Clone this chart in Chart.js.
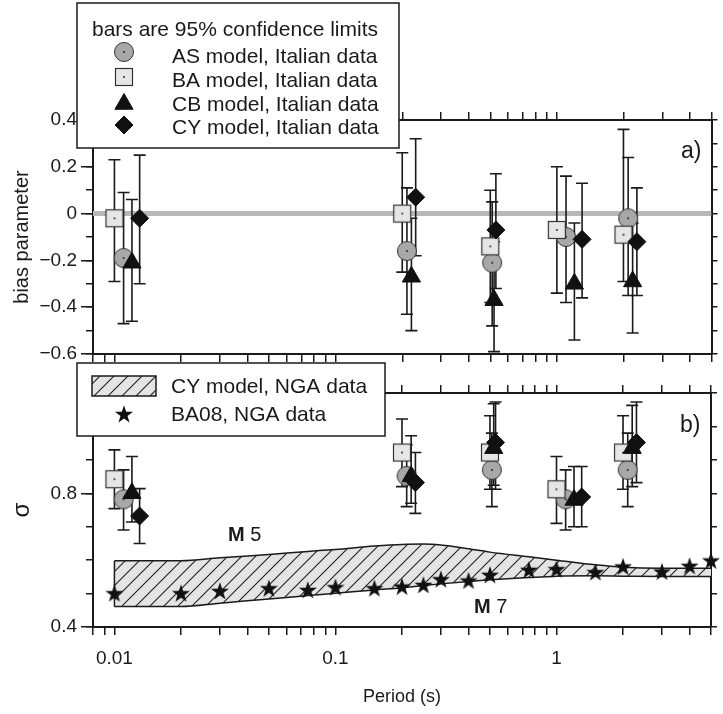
<!DOCTYPE html>
<html>
<head>
<meta charset="utf-8">
<script src="https://cdn.jsdelivr.net/npm/chart.js@4.4.1/dist/chart.umd.min.js"></script>
<style>
html, body { margin: 0; padding: 0; background: #fff; }
#wrap { position: relative; width: 723px; height: 714px; }
canvas { position: absolute; left: 0; top: 0; }
</style>
</head>
<body>
<div id="wrap">
  <canvas id="biasChart" width="723" height="714"></canvas>
  <canvas id="sigmaChart" width="723" height="714"></canvas>
</div>
<script>
const FONT = '"Liberation Sans", Arial, Helvetica, sans-serif';
const INK = '#1a1a1a';

// periods (s); each model is nudged right a little so the bars don't overlap
const periodsBA = [0.01, 0.2, 0.5, 1.0, 2.0];
const periodsAS = [0.011, 0.21, 0.51, 1.1, 2.1];
const periodsCB = [0.012, 0.22, 0.52, 1.2, 2.2];
const periodsCY = [0.013, 0.23, 0.53, 1.3, 2.3];

// panel a) bias parameter with 95% limits
const biasAS = [-0.19, -0.16, -0.21, -0.10, -0.02];
const biasASLow = [-0.47, -0.43, -0.48, -0.38, -0.35];
const biasASHigh = [0.09, 0.11, 0.05, 0.16, 0.24];
const biasBA = [-0.02, 0.00, -0.14, -0.07, -0.09];
const biasBALow = [-0.29, -0.25, -0.38, -0.34, -0.29];
const biasBAHigh = [0.23, 0.26, 0.10, 0.20, 0.36];
const biasCB = [-0.21, -0.27, -0.37, -0.30, -0.29];
const biasCBLow = [-0.46, -0.50, -0.59, -0.54, -0.51];
const biasCBHigh = [0.06, -0.02, -0.12, -0.04, -0.04];
const biasCY = [-0.02, 0.07, -0.07, -0.11, -0.12];
const biasCYLow = [-0.30, -0.18, -0.32, -0.36, -0.35];
const biasCYHigh = [0.25, 0.32, 0.17, 0.13, 0.11];

// panel b) sigma with 95% limits
const sigmaAS = [0.782, 0.852, 0.870, 0.782, 0.870];
const sigmaASLow = [0.69, 0.76, 0.76, 0.69, 0.76];
const sigmaASHigh = [0.87, 0.945, 0.98, 0.87, 0.98];
const sigmaBA = [0.842, 0.922, 0.922, 0.812, 0.922];
const sigmaBALow = [0.754, 0.82, 0.812, 0.71, 0.812];
const sigmaBAHigh = [0.93, 1.022, 1.032, 0.91, 1.032];
const sigmaCB = [0.80, 0.85, 0.935, 0.78, 0.935];
const sigmaCBLow = [0.714, 0.77, 0.824, 0.70, 0.82];
const sigmaCBHigh = [0.91, 0.972, 1.068, 0.88, 1.063];
const sigmaCY = [0.732, 0.832, 0.952, 0.789, 0.952];
const sigmaCYLow = [0.65, 0.74, 0.812, 0.70, 0.832];
const sigmaCYHigh = [0.814, 0.922, 1.073, 0.88, 1.073];

// NGA data: BA08 stars and the CY model band (M5 upper edge, M7 lower edge)
const ngaPeriods = [0.01, 0.02, 0.03, 0.05, 0.075, 0.1, 0.15, 0.2, 0.25, 0.3, 0.4, 0.5, 0.75, 1, 1.5, 2, 3, 4, 5];
const ba08Sigma = [0.501, 0.501, 0.508, 0.516, 0.511, 0.519, 0.516, 0.521, 0.526, 0.543, 0.539, 0.556, 0.571, 0.573, 0.564, 0.581, 0.566, 0.583, 0.599];
const cyM5 = [0.598, 0.598, 0.607, 0.617, 0.626, 0.632, 0.642, 0.647, 0.648, 0.645, 0.634, 0.624, 0.610, 0.600, 0.586, 0.579, 0.576, 0.576, 0.576];
const cyM7 = [0.461, 0.461, 0.471, 0.484, 0.494, 0.501, 0.511, 0.517, 0.524, 0.529, 0.536, 0.541, 0.548, 0.552, 0.553, 0.552, 0.551, 0.551, 0.551];

// ticks
const periodTicks = [0.008, 0.009, 0.01, 0.02, 0.03, 0.04, 0.05, 0.06, 0.07, 0.08, 0.09,
  0.1, 0.2, 0.3, 0.4, 0.5, 0.6, 0.7, 0.8, 0.9, 1, 2, 3, 4, 5];
const periodLabels = [0.01, 0.1, 1];
const biasTicks = [0.4, 0.2, 0, -0.2, -0.4, -0.6];
const sigmaTicks = [0.4, 0.8];

Chart.defaults.font.family = FONT;
Chart.defaults.color = INK;
Chart.defaults.animation = false;

function makeMarker(kind) {
  const c = document.createElement('canvas');
  c.width = c.height = 22;
  const g = c.getContext('2d');
  g.strokeStyle = '#333';
  g.lineWidth = 1;
  if (kind === 'star') {
    g.beginPath();
    for (let k = 0; k < 10; k++) {
      const r = k % 2 ? 3.7 : 9.5;
      const a = -Math.PI / 2 + k * Math.PI / 5;
      g.lineTo(11 + r * Math.cos(a), 11.8 + r * Math.sin(a));
    }
    g.closePath();
    g.fillStyle = '#111';
    g.fill();
    return c;
  }
  if (kind === 'circle') {
    g.beginPath();
    g.arc(11, 11, 9.5, 0, Math.PI * 2);
    g.fillStyle = '#a8a8a8';
    g.fill();
    g.stroke();
  } else {
    g.fillStyle = '#e6e6e6';
    g.fillRect(2, 2, 18, 18);
    g.lineWidth = 1.2;
    g.strokeRect(2.5, 2.5, 17, 17);
  }
  g.fillStyle = '#111';
  g.fillRect(10.2, 10.2, 1.6, 1.6);
  return c;
}

const circleMark = makeMarker('circle');
const squareMark = makeMarker('square');
const starMark = makeMarker('star');

function hatchPattern(ctx) {
  const c = document.createElement('canvas');
  c.width = c.height = 14;
  const g = c.getContext('2d');
  g.fillStyle = '#e4e4e4';
  g.fillRect(0, 0, 14, 14);
  g.strokeStyle = '#222';
  g.lineWidth = 1.1;
  g.beginPath();
  g.moveTo(-2, 16); g.lineTo(16, -2);
  g.moveTo(-2, 2); g.lineTo(2, -2);
  g.moveTo(12, 16); g.lineTo(16, 12);
  g.stroke();
  return ctx.createPattern(c, 'repeat');
}

function pts(xs, ys) {
  return xs.map((x, i) => ({x: x, y: ys[i]}));
}

const styleAS = {pointStyle: circleMark, pointRadius: 10};
const styleBA = {pointStyle: squareMark, pointRadius: 10};
const styleCB = {pointStyle: 'triangle', pointRadius: 10.5, pointBackgroundColor: '#111', pointBorderColor: '#111', pointBorderWidth: 1};
const styleCY = {pointStyle: 'rectRot', pointRadius: 9, pointBackgroundColor: '#111', pointBorderColor: '#111', pointBorderWidth: 1};

function markerSet(label, xs, ys, style, order) {
  return Object.assign({label: label, data: pts(xs, ys), showLine: false, order: order}, style);
}

function periodAxis(position, height, showLabels) {
  return {
    type: 'logarithmic', axis: 'x', position: position, min: 0.008, max: 5,
    afterBuildTicks: s => { s.ticks = periodTicks.map(v => ({value: v})); },
    afterFit: s => { s.height = height; },
    grid: {drawOnChartArea: false, tickLength: 8, color: INK, lineWidth: 1.5},
    border: {display: true, color: INK, width: 2},
    ticks: {
      display: showLabels, autoSkip: false, maxRotation: 0, padding: 12,
      font: {size: 19}, color: INK,
      callback: v => periodLabels.includes(v) ? String(v) : ''
    },
    title: {display: showLabels, text: 'Period (s)', font: {size: 18}, color: INK, padding: {top: 0, bottom: 6}}
  };
}

function minorAxis(position, min, max, len, width) {
  return {
    type: 'linear', position: position, min: min, max: max, weight: 0,
    afterFit: s => { s.width = width; },
    grid: {drawOnChartArea: false, tickLength: len, color: INK, lineWidth: 1.5},
    border: {display: position === 'right', color: INK, width: 2},
    ticks: {display: false, stepSize: 0.1}
  };
}

function majorAxis(min, max, ticks, title, titleSize) {
  return {
    type: 'linear', position: 'left', min: min, max: max, weight: 1,
    afterBuildTicks: s => { s.ticks = ticks.map(v => ({value: v})); },
    afterFit: s => { s.width = 93; },
    grid: {drawOnChartArea: false, tickLength: 12, color: INK, lineWidth: 1.5},
    border: {display: true, color: INK, width: 2},
    ticks: {padding: 4, font: {size: 19}, color: INK,
      callback: v => v < 0 ? '\u2212' + String(-v) : String(v)},
    title: {display: true, text: title, font: {size: titleSize}, color: INK,
      padding: {top: 22 - titleSize * 0.6, bottom: 0}}
  };
}

// error bars, drawn right after the dataset flagged as base
const errorBars = {
  id: 'errorBars',
  afterDatasetDraw(chart, args, opts) {
    if (!chart.data.datasets[args.index].base) return;
    const ctx = chart.ctx;
    const xs = chart.scales.x, ys = chart.scales.y;
    ctx.save();
    ctx.strokeStyle = INK;
    ctx.lineWidth = 1.6;
    opts.series.forEach(s => {
      s.x.forEach((t, i) => {
        const px = xs.getPixelForValue(t);
        const lo = ys.getPixelForValue(s.lo[i]);
        const hi = ys.getPixelForValue(s.hi[i]);
        ctx.beginPath();
        ctx.moveTo(px, lo); ctx.lineTo(px, hi);
        ctx.moveTo(px - 6, lo); ctx.lineTo(px + 6, lo);
        ctx.moveTo(px - 6, hi); ctx.lineTo(px + 6, hi);
        ctx.stroke();
      });
    });
    ctx.restore();
  }
};

function drawSymbol(ctx, ds, x, y) {
  ctx.save();
  if (ds.swatch) {
    ctx.fillStyle = ds.backgroundColor;
    ctx.fillRect(x - 32, y - 10, 64, 20);
    ctx.strokeStyle = INK;
    ctx.lineWidth = 1.5;
    ctx.strokeRect(x - 32, y - 10, 64, 20);
  } else if (typeof ds.pointStyle === 'object') {
    ctx.drawImage(ds.pointStyle, x - ds.pointStyle.width / 2, y - ds.pointStyle.height / 2);
  } else {
    ctx.fillStyle = ds.pointBackgroundColor;
    ctx.strokeStyle = ds.pointBorderColor;
    ctx.lineWidth = ds.pointBorderWidth;
    Chart.helpers.drawPoint(ctx, {pointStyle: ds.pointStyle, radius: ds.pointRadius, rotation: 0, borderWidth: ds.pointBorderWidth}, x, y);
  }
  ctx.restore();
}

const boxLegend = {
  id: 'boxLegend',
  afterDraw(chart, args, opts) {
    const ctx = chart.ctx;
    const [bx, by, bw, bh] = opts.box;
    ctx.save();
    ctx.fillStyle = '#fff';
    ctx.fillRect(bx, by, bw, bh);
    ctx.strokeStyle = INK;
    ctx.lineWidth = 1.5;
    ctx.strokeRect(bx, by, bw, bh);
    ctx.font = '21px ' + FONT;
    ctx.textBaseline = 'alphabetic';
    ctx.textAlign = 'left';
    ctx.fillStyle = INK;
    if (opts.title) ctx.fillText(opts.title, opts.titleX, opts.titleY);
    opts.rows.forEach((label, i) => {
      const ds = chart.data.datasets.find(d => d.label === label);
      drawSymbol(ctx, ds, opts.symbolX, opts.symbolY[i]);
      ctx.fillStyle = INK;
      ctx.fillText(label, opts.textX, opts.textY[i]);
    });
    ctx.restore();
  }
};

const notes = {
  id: 'notes',
  afterDraw(chart, args, opts) {
    const ctx = chart.ctx;
    ctx.save();
    ctx.fillStyle = INK;
    ctx.textBaseline = 'alphabetic';
    ctx.textAlign = 'left';
    opts.items.forEach(item => {
      let x = item.x;
      item.parts.forEach(([weight, text]) => {
        ctx.font = weight + ' ' + item.size + 'px ' + FONT;
        ctx.fillText(text, x, item.y);
        x += ctx.measureText(text).width;
      });
    });
    ctx.restore();
  }
};

// ---- panel a) ----
new Chart(document.getElementById('biasChart'), {
  type: 'scatter',
  data: {
    datasets: [
      markerSet('CY model, Italian data', periodsCY, biasCY, styleCY, 1),
      markerSet('CB model, Italian data', periodsCB, biasCB, styleCB, 2),
      markerSet('BA model, Italian data', periodsBA, biasBA, styleBA, 3),
      markerSet('AS model, Italian data', periodsAS, biasAS, styleAS, 4),
      {label: 'zero', data: pts([0.008, 5], [0, 0]), showLine: true, borderColor: '#b8b8b8',
        borderWidth: 5, pointRadius: 0, order: 9, base: true}
    ]
  },
  options: {
    responsive: false,
    events: [],
    layout: {padding: {left: 0, right: 0, top: 113, bottom: 352}},
    scales: {
      x: periodAxis('bottom', 8, false),
      xTop: periodAxis('top', 7, false),
      y: majorAxis(-0.6, 0.4, biasTicks, 'bias parameter', 20),
      yMinor: minorAxis('left', -0.6, 0.4, 7, 0),
      yRight: minorAxis('right', -0.6, 0.4, 6, 6)
    },
    plugins: {
      legend: {display: false},
      tooltip: {enabled: false},
      errorBars: {series: [
        {x: periodsAS, lo: biasASLow, hi: biasASHigh},
        {x: periodsBA, lo: biasBALow, hi: biasBAHigh},
        {x: periodsCB, lo: biasCBLow, hi: biasCBHigh},
        {x: periodsCY, lo: biasCYLow, hi: biasCYHigh}
      ]},
      boxLegend: {
        box: [77, 3, 322, 145],
        title: 'bars are 95% confidence limits', titleX: 92, titleY: 36,
        rows: ['AS model, Italian data', 'BA model, Italian data', 'CB model, Italian data', 'CY model, Italian data'],
        symbolX: 124, symbolY: [52, 77, 104, 125],
        textX: 172, textY: [62.5, 86.5, 111, 133.5]
      },
      notes: {items: [{x: 681, y: 158, size: 23, parts: [['normal', 'a)']]}]}
    }
  },
  plugins: [errorBars, boxLegend, notes]
});

// ---- panel b) ----
const sigmaCanvas = document.getElementById('sigmaChart');
const hatch = hatchPattern(sigmaCanvas.getContext('2d'));
const bandLine = {showLine: true, borderColor: INK, borderWidth: 1.5, pointRadius: 0, cubicInterpolationMode: 'monotone'};

new Chart(sigmaCanvas, {
  type: 'scatter',
  data: {
    datasets: [
      markerSet('CY model, Italian data', periodsCY, sigmaCY, styleCY, 1),
      markerSet('CB model, Italian data', periodsCB, sigmaCB, styleCB, 2),
      markerSet('BA model, Italian data', periodsBA, sigmaBA, styleBA, 3),
      markerSet('AS model, Italian data', periodsAS, sigmaAS, styleAS, 4),
      Object.assign(markerSet('BA08, NGA data', ngaPeriods, ba08Sigma, {pointStyle: starMark, pointRadius: 10}, 5), {clip: false}),
      Object.assign({label: 'band edge', data: pts([ngaPeriods[0], ngaPeriods[0]], [cyM7[0], cyM5[0]]), order: 6}, bandLine),
      Object.assign({label: 'CY model, NGA data', data: pts(ngaPeriods, cyM5), order: 7,
        fill: '+1', backgroundColor: hatch, swatch: true}, bandLine),
      Object.assign({label: 'CY model M7', data: pts(ngaPeriods, cyM7), order: 8, base: true}, bandLine)
    ]
  },
  options: {
    responsive: false,
    events: [],
    layout: {padding: {left: 0, right: 0, top: 386, bottom: 0}},
    scales: {
      x: periodAxis('bottom', 87, true),
      xTop: periodAxis('top', 7, false),
      y: majorAxis(0.4, 1.1, sigmaTicks, '\u03c3', 24),
      yMinor: minorAxis('left', 0.4, 1.1, 7, 0),
      yRight: minorAxis('right', 0.4, 1.1, 6, 6)
    },
    plugins: {
      legend: {display: false},
      tooltip: {enabled: false},
      filler: {drawTime: 'beforeDatasetsDraw'},
      errorBars: {series: [
        {x: periodsAS, lo: sigmaASLow, hi: sigmaASHigh},
        {x: periodsBA, lo: sigmaBALow, hi: sigmaBAHigh},
        {x: periodsCB, lo: sigmaCBLow, hi: sigmaCBHigh},
        {x: periodsCY, lo: sigmaCYLow, hi: sigmaCYHigh}
      ]},
      boxLegend: {
        box: [77, 363, 308, 73],
        rows: ['CY model, NGA data', 'BA08, NGA data'],
        symbolX: 124, symbolY: [386, 414],
        textX: 171, textY: [393, 421]
      },
      notes: {items: [
        {x: 680, y: 432, size: 23, parts: [['normal', 'b)']]},
        {x: 228, y: 540.5, size: 20, parts: [['bold', 'M'], ['normal', ' 5']]},
        {x: 474, y: 613, size: 20, parts: [['bold', 'M'], ['normal', ' 7']]}
      ]}
    }
  },
  plugins: [errorBars, boxLegend, notes]
});
</script>
</body>
</html>
